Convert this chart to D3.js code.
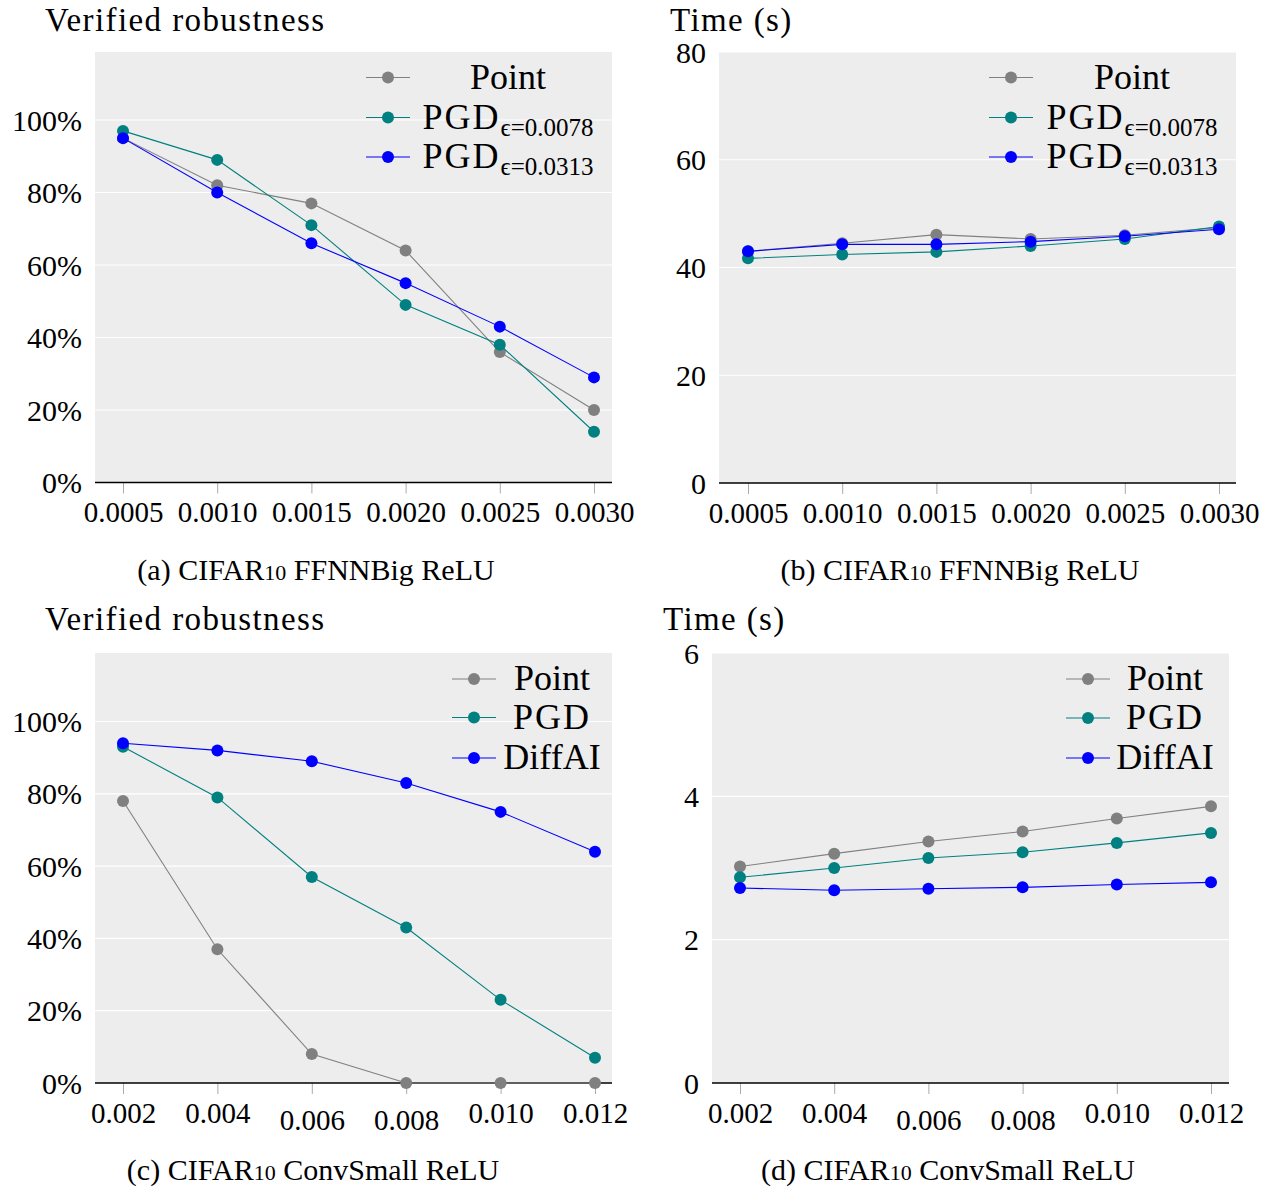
<!DOCTYPE html>
<html><head><meta charset="utf-8">
<script src="https://cdn.jsdelivr.net/npm/d3@7"></script>
<style>
body{margin:0;background:#fff;}
text{font-family:"Liberation Serif","DejaVu Serif",serif;fill:#000;}
</style></head>
<body><svg id="c" width="1286" height="1192"></svg>
<script>
// ---- data ----
const epsFFNN = [0.0005, 0.0010, 0.0015, 0.0020, 0.0025, 0.0030];
const epsConv = [0.002, 0.004, 0.006, 0.008, 0.010, 0.012];

const robFFNN_point = [0.95, 0.82, 0.77, 0.64, 0.36, 0.20];
const robFFNN_pgd1  = [0.97, 0.89, 0.71, 0.49, 0.38, 0.14];
const robFFNN_pgd2  = [0.95, 0.80, 0.66, 0.55, 0.43, 0.29];

const timeFFNN_point = [43.0, 44.5, 46.1, 45.3, 46.0, 47.4];
const timeFFNN_pgd1  = [41.7, 42.4, 42.9, 44.0, 45.3, 47.6];
const timeFFNN_pgd2  = [43.0, 44.3, 44.3, 44.8, 45.8, 47.1];

const robConv_point  = [0.78, 0.37, 0.08, 0.0, 0.0, 0.0];
const robConv_pgd    = [0.93, 0.79, 0.57, 0.43, 0.23, 0.07];
const robConv_diffai = [0.94, 0.92, 0.89, 0.83, 0.75, 0.64];

const timeConv_point  = [3.02, 3.20, 3.37, 3.51, 3.69, 3.86];
const timeConv_pgd    = [2.87, 3.00, 3.14, 3.22, 3.35, 3.49];
const timeConv_diffai = [2.72, 2.69, 2.71, 2.73, 2.77, 2.80];

const robTicks = [0, 0.2, 0.4, 0.6, 0.8, 1.0];
const timeFFNNTicks = [0, 20, 40, 60, 80];
const timeConvTicks = [0, 2, 4, 6];

const namesFFNN = ["Point", "PGD", "PGD"];
const subsFFNN = ["", "\u03f5=0.0078", "\u03f5=0.0313"];
const namesConv = ["Point", "PGD", "DiffAI"];
const colors = ["#808080", "#008080", "#0000ff"];

const titles = ["Verified robustness", "Time (s)", "Verified robustness", "Time (s)"];
const captions = [["(a) CIFAR","10"," FFNNBig ReLU"],["(b) CIFAR","10"," FFNNBig ReLU"],
                  ["(c) CIFAR","10"," ConvSmall ReLU"],["(d) CIFAR","10"," ConvSmall ReLU"]];

const svg = d3.select("#c");

function panel(o){
  const g = svg.append("g");
  const x = d3.scaleLinear().domain([o.xs[0], o.xs[o.xs.length-1]]).range([o.x0, o.x1]);
  const y = d3.scaleLinear().domain([0, o.ymax]).range([o.y0, o.y1]);
  // background
  g.append("rect").attr("x", o.bgL).attr("y", o.bgT).attr("width", o.bgR-o.bgL).attr("height", o.y0-o.bgT).attr("fill", "#ededed");
  // grid
  o.yticks.forEach(t=>{
    if(t===0) return;
    g.append("line").attr("x1", o.bgL).attr("x2", o.bgR).attr("y1", y(t)).attr("y2", y(t)).attr("stroke", "#fff").attr("stroke-width", 1.2);
  });
  // y labels
  o.yticks.forEach(t=>{
    g.append("text").attr("x", o.bgL-13).attr("y", y(t)).attr("dy", "0.35em").attr("text-anchor", "end")
      .attr("font-size", 30).text(o.yfmt(t));
  });
  // x axis
  const ax = g.append("g").attr("transform", `translate(0,${o.y0})`)
    .call(d3.axisBottom(x).tickValues(o.xs).tickSize(11).tickFormat(o.xfmt));
  ax.select(".domain").remove();
  ax.selectAll(".tick line").attr("stroke", "#aaa");
  ax.selectAll(".tick text").attr("font-size", 29).attr("font-family", "Liberation Serif, serif")
    .attr("y", d=>{ const s = o.xfmt(d); return /[68]$/.test(s) ? 26 : 19; }).attr("dy", "0.71em");
  g.append("line").attr("x1", o.bgL).attr("x2", o.bgR).attr("y1", o.y0).attr("y2", o.y0).attr("stroke", "#000").attr("stroke-width", 1.6);
  // series
  o.series.forEach((s,i)=>{
    const line = d3.line().x((d,j)=>x(o.xs[j])).y(d=>y(d));
    g.append("path").attr("d", line(s)).attr("fill", "none").attr("stroke", colors[i]).attr("stroke-width", 1.1);
    g.selectAll(null).data(s).enter().append("circle")
      .attr("cx", (d,j)=>x(o.xs[j])).attr("cy", d=>y(d)).attr("r", 6).attr("fill", colors[i]);
  });
  // legend
  o.names.forEach((n,i)=>{
    const ly = o.legY[i];
    g.append("line").attr("x1", o.legL).attr("x2", o.legL+44).attr("y1", ly).attr("y2", ly).attr("stroke", colors[i]).attr("stroke-width", 1.2);
    g.append("circle").attr("cx", o.legL+22).attr("cy", ly).attr("r", 6).attr("fill", colors[i]);
    const t = g.append("text").attr("x", o.legTx).attr("y", ly+11).attr("text-anchor", "middle").attr("font-size", 36);
    t.append("tspan").attr("letter-spacing", n==="PGD" ? 2 : 0).text(n);
    if(o.subs && o.subs[i]){
      t.append("tspan").attr("font-size", 25).attr("dy", 7).text(o.subs[i]);
    }
  });
  // title
  g.append("text").attr("x", o.titleX).attr("y", o.titleY).attr("font-size", 33)
    .attr("letter-spacing", 1.4).text(o.title);
  // caption
  const c = g.append("text").attr("x", o.capX).attr("y", o.capY).attr("text-anchor", "middle").attr("font-size", 30);
  c.append("tspan").text(o.caption[0]);
  c.append("tspan").attr("font-size", 22).text(o.caption[1]);
  c.append("tspan").text(o.caption[2]);
}

const pct = d=>Math.round(d*100)+"%";
const num = d=>String(d);

panel({xs:epsFFNN, xfmt:d3.format(".4f"), x0:123, x1:594, bgL:95, bgR:612, bgT:52,
  ymax:1.0, y0:482.5, y1:120, yticks:robTicks, yfmt:pct,
  series:[robFFNN_point, robFFNN_pgd1, robFFNN_pgd2], names:namesFFNN, subs:subsFFNN,
  legL:366, legTx:508, legY:[77.5,117.5,157],
  title:titles[0], titleX:45, titleY:31, caption:captions[0], capX:316, capY:580});

panel({xs:epsFFNN, xfmt:d3.format(".4f"), x0:748, x1:1219, bgL:719, bgR:1236, bgT:52,
  ymax:80, y0:483, y1:52, yticks:timeFFNNTicks, yfmt:num,
  series:[timeFFNN_point, timeFFNN_pgd1, timeFFNN_pgd2], names:namesFFNN, subs:subsFFNN,
  legL:989, legTx:1132, legY:[77.5,117.5,157],
  title:titles[1], titleX:670, titleY:31, caption:captions[1], capX:960, capY:580});

panel({xs:epsConv, xfmt:d3.format(".3f"), x0:123, x1:595, bgL:95, bgR:612, bgT:653,
  ymax:1.0, y0:1083, y1:721.5, yticks:robTicks, yfmt:pct,
  series:[robConv_point, robConv_pgd, robConv_diffai], names:namesConv, subs:null,
  legL:452, legTx:552, legY:[679,717.5,758],
  title:titles[2], titleX:45, titleY:630, caption:captions[2], capX:313, capY:1180});

panel({xs:epsConv, xfmt:d3.format(".3f"), x0:740, x1:1211, bgL:712, bgR:1229, bgT:653,
  ymax:6, y0:1083, y1:653, yticks:timeConvTicks, yfmt:num,
  series:[timeConv_point, timeConv_pgd, timeConv_diffai], names:namesConv, subs:null,
  legL:1066, legTx:1165, legY:[679,718,758],
  title:titles[3], titleX:663, titleY:630, caption:captions[3], capX:948, capY:1180});
</script></body></html>
